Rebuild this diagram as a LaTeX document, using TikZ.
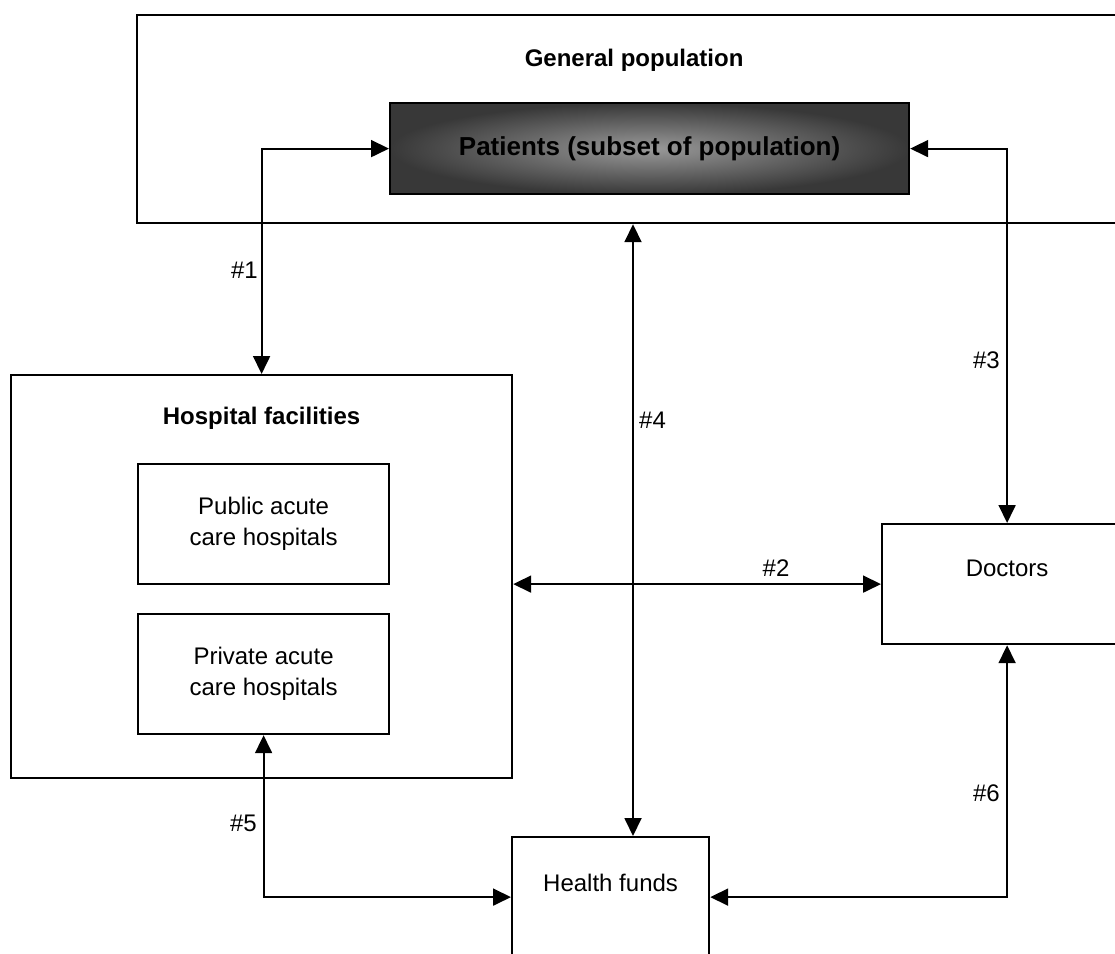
\documentclass[tikz,border=0pt]{standalone}
\usepackage{fontspec}
\setmainfont{Liberation Sans}
\usetikzlibrary{arrows.meta}
\newcommand{\mydiafont}{\fontsize{24}{31}\selectfont}
\begin{document}
\begin{tikzpicture}[x=1pt,y=-1pt,
  font=\mydiafont,
  box/.style={draw, line width=2.2pt, rectangle, inner sep=0pt, anchor=north west, align=center},
  ttl/.style={font=\mydiafont\bfseries, anchor=center},
  sub/.style={anchor=center},
  arr/.style={line width=1.8pt, {Triangle[length=18pt,width=17pt]}-{Triangle[length=18pt,width=17pt]}},
  lbl/.style={inner sep=0pt}
]
\useasboundingbox (0,0) rectangle (1115,953);
\begin{scope}
\clip (0,0) rectangle (1115,953);
% boxes
\node[box, minimum width=1000pt, minimum height=208pt,
  label={[ttl, yshift=-46pt, xshift=-3pt, name=gpt]north:General population}] (gp) at (136,14) {};
\node[box, minimum width=519pt, minimum height=91pt,
  inner color=black!40, outer color=black!78,
  font=\fontsize{26}{30}\selectfont\bfseries] (pat) at (389,102) {Patients (subset of population)};
\node[box, minimum width=501pt, minimum height=403pt,
  label={[ttl, yshift=-44pt, name=hft]north:Hospital facilities}] (hosp) at (10,374) {};
\node[box, minimum width=251pt, minimum height=120pt] (pub) at (137,463) {Public acute\\care hospitals};
\node[box, minimum width=251pt, minimum height=120pt] (priv) at (137,613) {Private acute\\care hospitals};
\node[box, minimum width=250pt, minimum height=120pt,
  label={[sub, yshift=-45pt, name=doct]north:Doctors}] (doc) at (881,523) {};
\node[box, minimum width=197pt, minimum height=120pt,
  label={[sub, yshift=-47pt, name=hfut]north:Health funds}] (hf) at (511,836) {};
% connectors
\coordinate (c4) at (633,500);
\draw[arr] (pat.west) -| (hosp.north);
\draw[arr] (pat.east) -| (doc.north);
\draw[arr] (gp.south -| c4) -- (hf.north -| c4);
\draw[arr] (hosp.east |- doc.west) -- (doc.west);
\draw[arr] (doc.south) |- (hf.east);
\draw[arr] (priv.south) |- (hf.west);
% labels
\node[lbl, anchor=east] (l1) at (258,270) {\#1};
\node[lbl, anchor=base] (l2) at (776,576) {\#2};
\node[lbl, anchor=east] (l3) at (1000,360) {\#3};
\node[lbl, anchor=west] (l4) at (639,420) {\#4};
\node[lbl, anchor=east] (l5) at (257,823) {\#5};
\node[lbl, anchor=east] (l6) at (1000,793) {\#6};
\end{scope}
\end{tikzpicture}
\end{document}
